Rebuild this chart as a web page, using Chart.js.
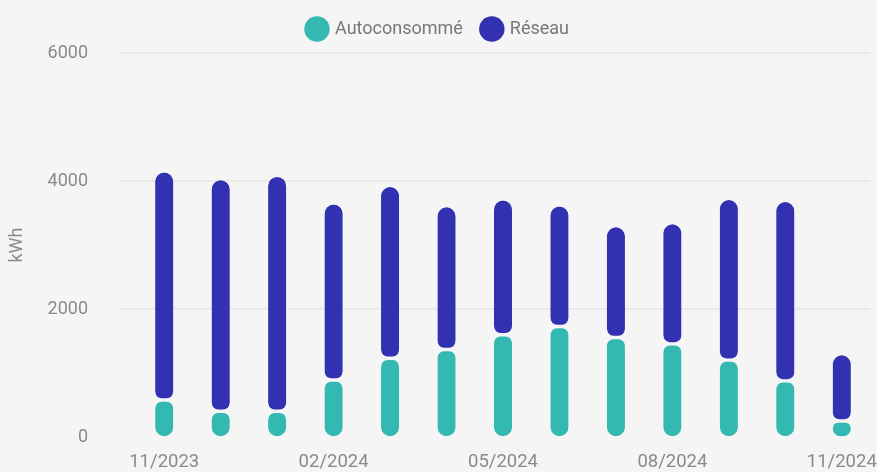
<!DOCTYPE html>
<html>
<head>
<meta charset="utf-8">
<script src="https://cdn.jsdelivr.net/npm/chart.js@4.4.1/dist/chart.umd.min.js"></script>
<style>
  html, body { margin: 0; padding: 0; background: #f5f5f5; overflow: hidden; }
  canvas { display: block; }
</style>
</head>
<body>
<canvas id="chart" width="877" height="472"></canvas>
<script>
// monthly energy, kWh
const months = ['11/2023', '12/2023', '01/2024', '02/2024', '03/2024', '04/2024', '05/2024',
  '06/2024', '07/2024', '08/2024', '09/2024', '10/2024', '11/2024'];
const autoconsomme = [578, 402, 402, 891, 1230, 1367, 1597, 1727, 1555, 1456, 1202, 878, 250];
const reseau = [3553, 3609, 3661, 2740, 2676, 2222, 2097, 1873, 1722, 1867, 2501, 2794, 1027];
const yTicks = [0, 2000, 4000, 6000];

const TEAL = '#33b9b1';
const BLUE = '#3131b1';
const radius = { topLeft: 9, topRight: 9, bottomLeft: 9, bottomRight: 9 };

Chart.defaults.font.family = 'Roboto, "Noto Sans", sans-serif';

// a bit more room under the legend
const legendGap = {
  id: 'legendGap',
  beforeInit(chart) {
    const fit = chart.legend.fit;
    chart.legend.fit = function () {
      fit.bind(chart.legend)();
      this.height += 5;
    };
  }
};

new Chart(document.getElementById('chart'), {
  type: 'bar',
  plugins: [legendGap],
  data: {
    labels: months,
    datasets: [
      {
        label: 'Autoconsommé',
        data: autoconsomme,
        backgroundColor: TEAL,
        borderColor: 'rgba(0,0,0,0)',
        borderWidth: { top: 2, bottom: 0, left: 0, right: 0 },
        borderSkipped: false,
        borderRadius: radius,
        barThickness: 18
      },
      {
        label: 'Réseau',
        data: reseau,
        backgroundColor: BLUE,
        borderColor: 'rgba(0,0,0,0)',
        borderWidth: { top: 0, bottom: 2, left: 0, right: 0 },
        borderSkipped: false,
        borderRadius: radius,
        barThickness: 18
      }
    ]
  },
  options: {
    responsive: false,
    animation: false,
    layout: { padding: 0 },
    plugins: {
      legend: {
        position: 'top',
        labels: {
          usePointStyle: true,
          pointStyle: 'circle',
          color: '#777777',
          padding: 20,
          font: { size: 18 }
        }
      },
      tooltip: { enabled: false }
    },
    scales: {
      x: {
        stacked: true,
        grid: { display: false, drawTicks: false },
        border: { display: false },
        afterFit: axis => {
          axis.height = 35;
          axis.paddingLeft = 0;
          axis.paddingRight = 7;
        },
        ticks: {
          autoSkip: false,
          maxRotation: 0,
          padding: 14,
          color: '#8a8a8a',
          font: { size: 18.5 },
          callback: function (val, i) { return i % 3 === 0 ? months[i] : ''; }
        }
      },
      y: {
        stacked: true,
        min: 0,
        max: 6000,
        afterBuildTicks: function (axis) { axis.ticks = yTicks.map(v => ({ value: v })); },
        afterFit: axis => {
          axis.width = 136;
          axis.paddingTop = 0;
          axis.paddingBottom = 0;
        },
        grid: {
          color: ctx => (ctx.tick && ctx.tick.value === 0) ? 'rgba(0,0,0,0)' : '#e6e6e6',
          lineWidth: 1.5,
          tickLength: 16
        },
        border: { display: false },
        ticks: {
          padding: 32,
          color: '#8a8a8a',
          font: { size: 18 },
          callback: v => String(v)
        },
        title: {
          display: true,
          text: 'kWh',
          color: '#8a8a8a',
          font: { size: 18 },
          padding: { top: 7, bottom: 19 }
        }
      }
    }
  }
});
</script>
</body>
</html>
